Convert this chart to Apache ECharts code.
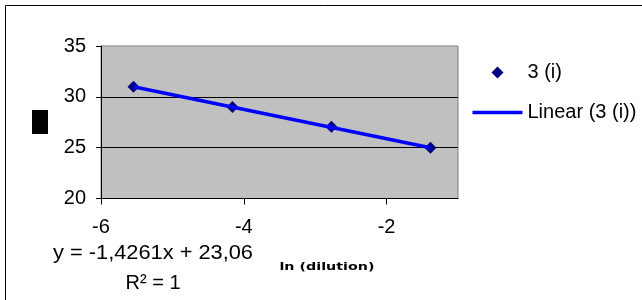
<!DOCTYPE html>
<html>
<head>
<meta charset="utf-8">
<script src="https://cdn.jsdelivr.net/npm/echarts@6/dist/echarts.min.js"></script>
<style>
  html, body { margin: 0; padding: 0; background: #fff; }
  #chart { width: 642px; height: 300px; }
</style>
</head>
<body>
<div id="chart"></div>
<script>
// data
var lnDilution = [-5.545, -4.159, -2.773, -1.386];
var ctValues = [31.0, 29.0, 27.05, 25.0];
var trendX = [-5.545, -1.386];
var trendY = [31.0, 25.0];
var xTickValues = [-6, -4, -2];
var yTickValues = [20, 25, 30, 35];

var seriesName = '3 (i)';
var trendName = 'Linear (3 (i))';
var equationText = 'y = -1,4261x + 23,06';
var r2Text = 'R² = 1';
var xTitle = 'ln (dilution)';

var font = 'Liberation Sans, Arial, sans-serif';

var chart = echarts.init(document.getElementById('chart'));

var points = lnDilution.map(function(x, i) { return [x, ctValues[i]]; });
var trend = trendX.map(function(x, i) { return [x, trendY[i]]; });

var option = {
  animation: false,
  grid: {
    left: 101,
    top: 46,
    right: 184,
    bottom: 101.5,
    show: true,
    backgroundColor: '#C0C0C0',
    borderColor: '#808080',
    borderWidth: 1
  },
  legend: {
    orient: 'vertical',
    data: [
      { name: seriesName, icon: 'path://M0,-1L1,0L0,1L-1,0Z' },
      { name: trendName, icon: 'path://M0,0L50,0L50,3.5L0,3.5Z' }
    ],
    left: 472.5,
    top: 62.5,
    padding: 0,
    itemGap: 20,
    itemWidth: 50,
    itemHeight: 12,
    textStyle: { fontFamily: font, fontSize: 20, color: '#000' }
  },
  xAxis: {
    type: 'value',
    min: -6,
    max: -1,
    interval: 2,
    axisLine: { onZero: false, lineStyle: { color: '#000', width: 1 } },
    axisTick: { show: true, length: 6, customValues: xTickValues, lineStyle: { color: '#000' } },
    axisLabel: {
      customValues: xTickValues,
      margin: 19,
      fontFamily: font,
      fontSize: 20,
      color: '#000'
    },
    splitLine: { show: false }
  },
  yAxis: {
    type: 'value',
    min: yTickValues[0],
    max: yTickValues[yTickValues.length - 1],
    interval: 5,
    axisLine: { show: true, lineStyle: { color: '#000', width: 1 } },
    axisTick: { show: true, length: 5, lineStyle: { color: '#000' } },
    axisLabel: {
      margin: 15,
      fontFamily: font,
      fontSize: 20,
      color: '#000'
    },
    splitLine: {
      show: true,
      showMinLine: false,
      showMaxLine: false,
      lineStyle: { color: '#000', width: 1 }
    }
  },
  series: [{
    name: seriesName,
    type: 'scatter',
    data: points,
    symbol: 'diamond',
    symbolSize: 12,
    itemStyle: { color: '#000080', opacity: 1 },
    z: 2
  }, {
    name: trendName,
    type: 'line',
    data: trend,
    symbol: 'none',
    lineStyle: { color: '#0000FF', width: 3.5 },
    itemStyle: { color: '#0000FF' },
    z: 3
  }],
  graphic: [{
    type: 'rect',
    shape: { x: 5.5, y: 5.5, width: 700, height: 400 },
    style: { fill: null, stroke: '#000', lineWidth: 1 },
    silent: true
  }, {
    type: 'rect',
    shape: { x: 32, y: 110, width: 16, height: 24 },
    style: { fill: '#000' },
    silent: true
  }, {
    type: 'text',
    x: 153,
    y: 253,
    scaleX: 1.09,
    style: {
      text: equationText,
      fontFamily: font,
      fontSize: 20,
      fill: '#000',
      align: 'center',
      verticalAlign: 'middle'
    }
  }, {
    type: 'text',
    x: 153,
    y: 283,
    style: {
      text: r2Text,
      fontFamily: font,
      fontSize: 20,
      fill: '#000',
      align: 'center',
      verticalAlign: 'middle'
    }
  }, {
    type: 'text',
    x: 327,
    y: 267,
    scaleX: 1.3,
    style: {
      text: xTitle,
      fontFamily: 'DejaVu Sans, sans-serif',
      fontWeight: 'bold',
      fontSize: 11,
      fill: '#000',
      align: 'center',
      verticalAlign: 'middle'
    }
  }]
};

chart.setOption(option);
</script>
</body>
</html>
